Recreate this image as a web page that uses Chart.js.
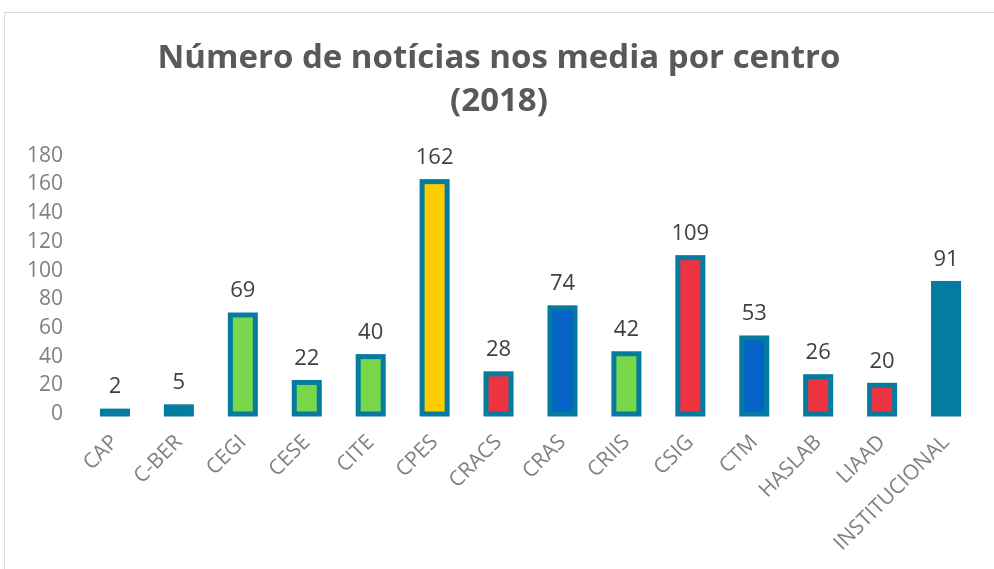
<!DOCTYPE html>
<html>
<head>
<meta charset="utf-8">
<script src="https://cdn.jsdelivr.net/npm/chart.js@4.4.0/dist/chart.umd.min.js"></script>
<style>
  html, body { margin: 0; padding: 0; background: #fff; }
  #wrap { position: relative; width: 994px; height: 569px; overflow: hidden; }
  #frame { position: absolute; left: 4px; top: 12px; width: 1000px; height: 600px; border: 1px solid #d9d9d9; box-sizing: border-box; }
  canvas { position: absolute; left: 0; top: 0; }
</style>
</head>
<body>
<div id="wrap">
  <div id="frame"></div>
  <canvas id="chart" width="994" height="569"></canvas>
</div>
<script>
// --- Données ---
const centros = ['CAP', 'C-BER', 'CEGI', 'CESE', 'CITE', 'CPES', 'CRACS', 'CRAS', 'CRIIS', 'CSIG', 'CTM', 'HASLAB', 'LIAAD', 'INSTITUCIONAL'];
const noticias = [2, 5, 69, 22, 40, 162, 28, 74, 42, 109, 53, 26, 20, 91];
const coresFundo = ['#047b9f', '#047b9f', '#78d74a', '#78d74a', '#78d74a', '#ffcc00', '#ee3340', '#0563c8', '#78d74a', '#ee3340', '#0563c8', '#ee3340', '#ee3340', '#047b9f'];
const titulo = ['Número de notícias nos media por centro', '(2018)'];

// Contorno à la Excel (centrado na aresta) + rótulos de valor
const contornoEValores = {
  id: 'contornoEValores',
  afterDatasetsDraw(chart) {
    const ctx = chart.ctx;
    const meta = chart.getDatasetMeta(0);
    ctx.save();
    ctx.strokeStyle = '#047b9f';
    ctx.lineWidth = 5;
    meta.data.forEach(bar => {
      const w = bar.width;
      ctx.strokeRect(bar.x - w / 2, bar.y, w, bar.base - bar.y);
    });
    ctx.font = '22px "Open Sans"';
    ctx.fillStyle = '#404040';
    ctx.textAlign = 'center';
    ctx.textBaseline = 'middle';
    meta.data.forEach((bar, i) => {
      ctx.fillText(noticias[i], bar.x, bar.y - 24);
    });
    ctx.restore();
  }
};

new Chart(document.getElementById('chart'), {
  type: 'bar',
  data: {
    labels: centros,
    datasets: [{
      data: noticias,
      backgroundColor: coresFundo,
      borderWidth: 0,
      barThickness: 25
    }]
  },
  options: {
    responsive: false,
    animation: false,
    layout: { padding: { left: 20, right: 16, top: 37, bottom: 0 } },
    plugins: {
      legend: { display: false },
      tooltip: { enabled: false },
      title: {
        display: true,
        text: titulo,
        color: '#595959',
        font: { family: 'Open Sans', size: 33, weight: 'bold', lineHeight: 1.3 },
        padding: { top: 0, bottom: 33 }
      }
    },
    scales: {
      x: {
        grid: { display: false, drawTicks: false },
        border: { display: false },
        ticks: {
          color: '#808080',
          font: { family: 'Open Sans', size: 21 },
          minRotation: 45,
          maxRotation: 45,
          padding: 16,
          autoSkip: false
        },
        afterFit(scale) { scale.height = 155; }
      },
      y: {
        min: 0,
        max: 180,
        grid: { display: false, drawTicks: false },
        border: { display: false },
        ticks: {
          stepSize: 20,
          autoSkip: false,
          color: '#808080',
          font: { family: 'Open Sans', size: 21 },
          padding: 20
        },
        afterFit(scale) { scale.width = 63; }
      }
    }
  },
  plugins: [contornoEValores]
});
</script>
</body>
</html>
